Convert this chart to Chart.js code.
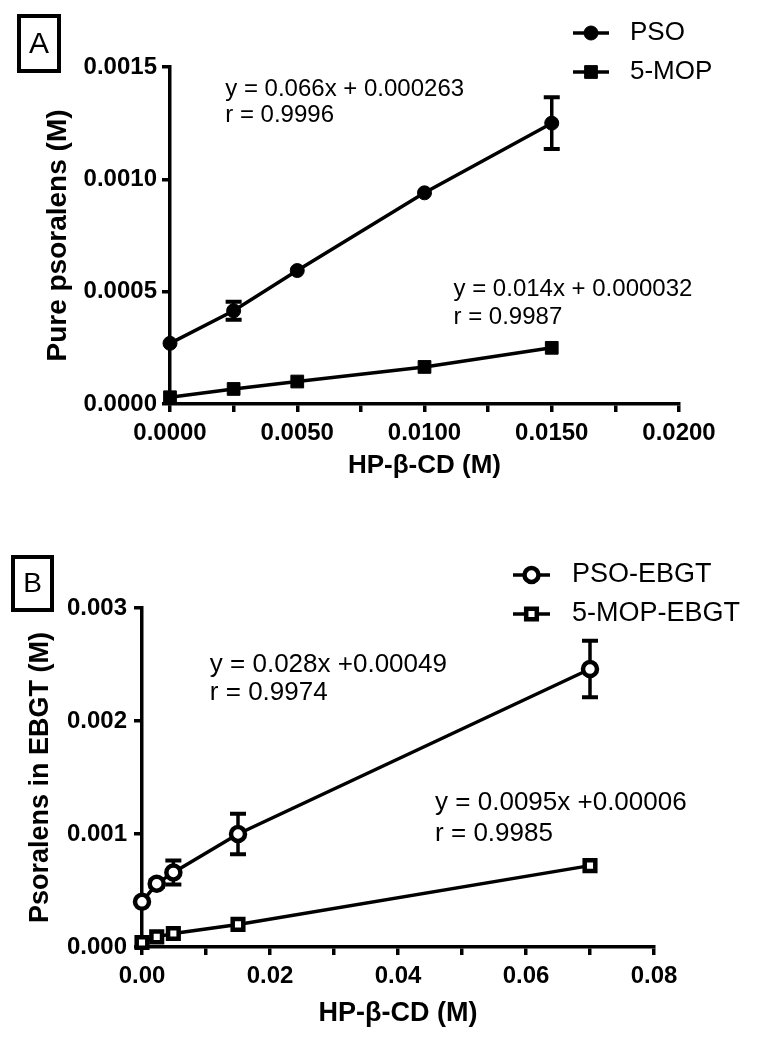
<!DOCTYPE html>
<html>
<head>
<meta charset="utf-8">
<script src="https://cdn.jsdelivr.net/npm/chart.js"></script>
<style>
  body { margin: 0; background: #fff; }
  #wrapA { position: absolute; left: 0; top: 0; width: 757px; height: 481px; }
  #wrapB { position: absolute; left: 0; top: 520px; width: 757px; height: 510px; }
</style>
</head>
<body>
<div id="wrapA"><canvas id="chartA" width="757" height="481"></canvas></div>
<div id="wrapB"><canvas id="chartB" width="757" height="510"></canvas></div>
<script>
const FONT = "'Liberation Sans', Arial, sans-serif";

// Panel A - pure psoralens vs HP-b-CD
const hpcdA = [0, 0.0025, 0.005, 0.01, 0.015];
const psoA = [0.00027, 0.000415, 0.000594, 0.00094, 0.00125];
const psoAErr = [0, 0.00004, 0, 0, 0.000115];
const mopA = [0.00003, 0.000067, 0.0001, 0.000165, 0.00025];
const mopAErr = [0, 0, 0, 0, 0];

// Panel B - psoralens in EBGT vs HP-b-CD
const hpcdB = [0, 0.0023, 0.0049, 0.015, 0.07];
const psoB = [0.0004, 0.00056, 0.00066, 0.001, 0.00246];
const psoBErr = [0, 0.00003, 0.000106, 0.00018, 0.00025];
const mopB = [0.00004, 0.00009, 0.00012, 0.0002, 0.00072];
const mopBErr = [0, 0, 0, 0, 0];

const pts = (xs, ys) => xs.map((x, i) => ({ x: x, y: ys[i] }));

// error bars, panel letter, legend and fit equations
const extras = {
  id: 'extras',
  beforeDatasetsDraw(chart) {
    const ctx = chart.ctx;
    const ys = chart.scales.y;
    ctx.save();
    ctx.strokeStyle = '#000';
    chart.data.datasets.forEach((ds, i) => {
      const meta = chart.getDatasetMeta(i);
      (ds.errors || []).forEach((e, j) => {
        if (!e) return;
        const px = meta.data[j].x;
        const top = ys.getPixelForValue(ds.data[j].y + e);
        const bot = ys.getPixelForValue(ds.data[j].y - e);
        ctx.lineWidth = 3.5;
        ctx.beginPath();
        ctx.moveTo(px, top);
        ctx.lineTo(px, bot);
        ctx.stroke();
        ctx.lineWidth = 4;
        ctx.beginPath();
        ctx.moveTo(px - 8, top);
        ctx.lineTo(px + 8, top);
        ctx.moveTo(px - 8, bot);
        ctx.lineTo(px + 8, bot);
        ctx.stroke();
      });
    });
    ctx.restore();
  },
  afterDraw(chart, args, opts) {
    const ctx = chart.ctx;
    ctx.save();
    ctx.fillStyle = '#000';
    ctx.strokeStyle = '#000';

    // boxed panel letter
    const b = opts.box;
    ctx.lineWidth = 4;
    ctx.strokeRect(b.x, b.y, b.w, b.h);
    ctx.font = b.size + 'px ' + FONT;
    ctx.textAlign = 'center';
    ctx.textBaseline = 'middle';
    ctx.fillText(b.text, b.x + b.w / 2, b.y + b.h / 2 + 1);

    // legend
    const lg = opts.legend;
    chart.data.datasets.forEach((ds, i) => {
      const y = lg.y + i * lg.gap;
      const cx = lg.x + lg.lineW / 2;
      ctx.lineWidth = 3.5;
      ctx.beginPath();
      ctx.moveTo(lg.x, y);
      ctx.lineTo(lg.x + lg.lineW, y);
      ctx.stroke();
      ctx.fillStyle = ds.pointBackgroundColor;
      ctx.lineWidth = ds.pointBorderWidth;
      ctx.beginPath();
      if (ds.pointStyle === 'rect') {
        const h = Math.SQRT1_2 * ds.pointRadius;
        ctx.rect(cx - h, y - h, 2 * h, 2 * h);
      } else {
        ctx.arc(cx, y, ds.pointRadius, 0, Math.PI * 2);
      }
      ctx.fill();
      ctx.stroke();
      ctx.fillStyle = '#000';
      ctx.font = lg.size + 'px ' + FONT;
      ctx.textAlign = 'left';
      ctx.textBaseline = 'middle';
      ctx.fillText(ds.label, lg.textX, y);
    });

    // regression equations, anchored in data units
    ctx.textAlign = 'left';
    ctx.textBaseline = 'middle';
    opts.notes.forEach(n => {
      const x = chart.scales.x.getPixelForValue(n.x);
      const y = chart.scales.y.getPixelForValue(n.y);
      ctx.font = n.size + 'px ' + FONT;
      n.lines.forEach((t, k) => ctx.fillText(t, x, y + k * n.gap));
    });
    ctx.restore();
  }
};

function axis(opts) {
  return {
    type: 'linear',
    min: opts.min,
    max: opts.max,
    afterFit: opts.fit,
    border: { display: true, color: '#000', width: 3.5 },
    grid: { display: true, drawOnChartArea: false, drawTicks: true, tickLength: 8, color: '#000', lineWidth: 3.5 },
    ticks: {
      stepSize: opts.step,
      autoSkip: false,
      maxRotation: 0,
      padding: opts.pad,
      color: '#000',
      font: { family: FONT, size: 24, weight: 'bold' },
      callback: opts.label
    },
    title: {
      display: true,
      text: opts.title,
      color: '#000',
      font: { family: FONT, size: opts.titleSize, weight: 'bold' },
      padding: { top: opts.titlePad, bottom: 0 }
    }
  };
}

function series(label, data, errors, style, open) {
  return {
    label: label,
    data: data,
    errors: errors,
    showLine: true,
    tension: 0,
    clip: false,
    borderColor: '#000',
    borderWidth: 3.5,
    pointStyle: style,
    pointRadius: style === 'rect' ? (open ? 7.5 : 9) : 7,
    pointBackgroundColor: open ? '#fff' : '#000',
    pointBorderColor: '#000',
    pointBorderWidth: open ? 4.5 : 1
  };
}

new Chart(document.getElementById('chartA'), {
  type: 'scatter',
  data: {
    datasets: [
      series('PSO', pts(hpcdA, psoA), psoAErr, 'circle', false),
      series('5-MOP', pts(hpcdA, mopA), mopAErr, 'rect', false)
    ]
  },
  options: {
    responsive: false,
    animation: false,
    events: [],
    layout: { padding: { left: 0, right: 78, top: 67, bottom: 0 } },
    plugins: {
      legend: { display: false },
      tooltip: { enabled: false },
      extras: {
        box: { x: 19, y: 16, w: 40, h: 55, text: 'A', size: 30 },
        legend: { x: 573, y: 33, gap: 39, lineW: 36, textX: 630, size: 26 },
        notes: [
          { x: 0.00217, y: 0.0014, size: 24, gap: 26, lines: ['y = 0.066x + 0.000263', 'r = 0.9996'] },
          { x: 0.01114, y: 0.000509, size: 24, gap: 28, lines: ['y = 0.014x + 0.000032', 'r = 0.9987'] }
        ]
      }
    },
    scales: {
      x: axis({
        min: 0, max: 0.02, step: 0.0025, pad: 7,
        fit: s => { s.height = 77; },
        label: (v, i) => i % 2 === 0 ? v.toFixed(4) : '',
        title: 'HP-β-CD (M)', titleSize: 26, titlePad: 0
      }),
      y: axis({
        min: 0, max: 0.0015, step: 0.0005, pad: 5,
        fit: s => { s.width = 170; },
        label: v => v.toFixed(4),
        title: 'Pure psoralens (M)', titleSize: 28, titlePad: 41
      })
    }
  },
  plugins: [extras]
});

new Chart(document.getElementById('chartB'), {
  type: 'scatter',
  data: {
    datasets: [
      series('PSO-EBGT', pts(hpcdB, psoB), psoBErr, 'circle', true),
      series('5-MOP-EBGT', pts(hpcdB, mopB), mopBErr, 'rect', true)
    ]
  },
  options: {
    responsive: false,
    animation: false,
    events: [],
    layout: { padding: { left: 0, right: 103, top: 88, bottom: 0 } },
    plugins: {
      legend: { display: false },
      tooltip: { enabled: false },
      extras: {
        box: { x: 13, y: 37, w: 39, h: 53, text: 'B', size: 28 },
        legend: { x: 513, y: 55, gap: 39, lineW: 37, textX: 572, size: 27 },
        notes: [
          { x: 0.0106, y: 0.0025, size: 26, gap: 28, lines: ['y = 0.028x +0.00049', 'r = 0.9974'] },
          { x: 0.0458, y: 0.001274, size: 26, gap: 31, lines: ['y = 0.0095x +0.00006', 'r = 0.9985'] }
        ]
      }
    },
    scales: {
      x: axis({
        min: 0, max: 0.08, step: 0.01, pad: 7,
        fit: s => { s.height = 83; },
        label: (v, i) => i % 2 === 0 ? v.toFixed(2) : '',
        title: 'HP-β-CD (M)', titleSize: 27, titlePad: 0
      }),
      y: axis({
        min: 0, max: 0.003, step: 0.001, pad: 7,
        fit: s => { s.width = 142; },
        label: v => v.toFixed(3),
        title: 'Psoralens in EBGT (M)', titleSize: 27, titlePad: 24
      })
    }
  },
  plugins: [extras]
});
</script>
</body>
</html>
